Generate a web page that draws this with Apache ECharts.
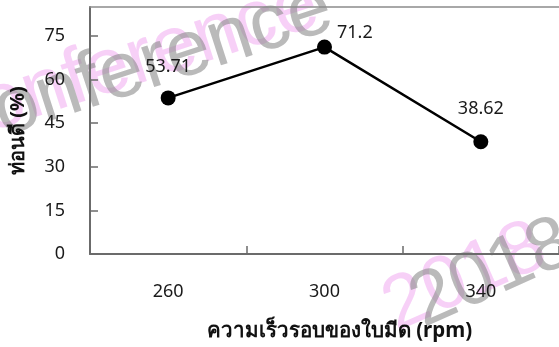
<!DOCTYPE html>
<html>
<head>
<meta charset="utf-8">
<script src="https://cdn.jsdelivr.net/npm/echarts@6/dist/echarts.min.js"></script>
<style>
  html, body { margin: 0; padding: 0; background: #ffffff; }
  #chart { width: 559px; height: 347px; }
</style>
</head>
<body>
<div id="chart"></div>
<script>
// Blade speed (rpm) vs. share of good pieces (%)
const speeds = ['260', '300', '340'];
const goodPieces = [53.71, 71.2, 38.62];
const yTicks = { min: 0, max: 85, step: 15 };
const xTitle = 'ความเร็วรอบของใบมีด (rpm)';
const yTitle = 'ท่อนดี (%)';
const watermarkWord = 'Conference';
const watermarkYear = '2018';

const FONT = 'Tahoma, "Noto Sans", "DejaVu Sans", sans-serif';
const AXIS_COLOR = '#6b6b6b';

const chart = echarts.init(document.getElementById('chart'), null, { renderer: 'canvas' });

// per-point label placement
const labelPlacement = [
  { position: 'top', distance: 15 },
  { position: 'right', distance: 5, offset: [0, -14] },
  { position: 'top', distance: 16 }
];

const seriesData = goodPieces.map((v, i) => ({ value: v, label: labelPlacement[i] }));

const WM_FONT_WORD = '79px "Liberation Sans", Arial, sans-serif';
const WM_FONT_YEAR = '76px "Liberation Sans", Arial, sans-serif';
const WM_PINK = 'rgba(240,170,240,0.55)';
const WM_GREY = 'rgba(140,140,140,0.6)';
const rad = (d) => d * Math.PI / 180;

const option = {
  animation: false,
  backgroundColor: '#ffffff',
  grid: { left: 90, right: 0, top: 7, bottom: 93, containLabel: false, outerBoundsMode: 'none' },
  xAxis: [
    {
      type: 'category',
      data: speeds,
      boundaryGap: true,
      axisLine: { show: true, lineStyle: { color: AXIS_COLOR, width: 2 } },
      axisTick: { show: true, inside: true, length: 8, lineStyle: { color: AXIS_COLOR, width: 1.5 } },
      axisLabel: { margin: 29, fontSize: 18, color: '#1a1a1a', fontFamily: FONT },
      name: xTitle,
      nameLocation: 'middle',
      nameGap: 67,
      nameTextStyle: { fontSize: 20.5, fontWeight: 'bold', color: '#111', fontFamily: FONT, padding: [0, 0, 0, 30] }
    },
    {
      // plot-area top edge
      type: 'category',
      data: speeds,
      position: 'top',
      axisLine: { show: true, lineStyle: { color: '#8c8c8c', width: 1.5 } },
      axisTick: { show: false },
      axisLabel: { show: false }
    }
  ],
  yAxis: {
    type: 'value',
    min: yTicks.min,
    max: yTicks.max,
    interval: yTicks.step,
    splitLine: { show: false },
    axisLine: { show: true, lineStyle: { color: AXIS_COLOR, width: 2 } },
    axisTick: { show: true, inside: true, length: 8, lineStyle: { color: AXIS_COLOR, width: 1.5 } },
    axisLabel: { margin: 25, fontSize: 18, color: '#1a1a1a', fontFamily: FONT, showMaxLabel: false },
    name: yTitle,
    nameLocation: 'middle',
    nameGap: 62,
    nameRotate: 90,
    nameTextStyle: { fontSize: 20, fontWeight: 'bold', color: '#111', fontFamily: FONT }
  },
  series: [{
    type: 'line',
    data: seriesData,
    xAxisIndex: 0,
    symbol: 'circle',
    symbolSize: 15,
    lineStyle: { color: '#000', width: 2.5 },
    itemStyle: { color: '#000' },
    label: { show: true, fontSize: 18, color: '#1a1a1a', fontFamily: FONT },
    z: 5
  }],
  graphic: [
    // watermark (pink layer, then grey layer)
    { type: 'text', x: 122, y: 66, rotation: rad(18), z: -10, silent: true,
      style: { text: watermarkWord, font: WM_FONT_WORD, fill: WM_PINK, align: 'center', verticalAlign: 'middle' } },
    { type: 'text', x: 136, y: 70, rotation: rad(18), z: -9, silent: true,
      style: { text: watermarkWord, font: WM_FONT_WORD, fill: WM_GREY, align: 'center', verticalAlign: 'middle' } },
    { type: 'text', x: 465, y: 278, rotation: rad(24), z: -10, silent: true,
      style: { text: watermarkYear, font: WM_FONT_YEAR, fill: WM_PINK, align: 'center', verticalAlign: 'middle' } },
    { type: 'text', x: 492, y: 274, rotation: rad(24), z: -9, silent: true,
      style: { text: watermarkYear, font: WM_FONT_YEAR, fill: WM_GREY, align: 'center', verticalAlign: 'middle' } }
  ]
};

chart.setOption(option);
</script>
</body>
</html>
